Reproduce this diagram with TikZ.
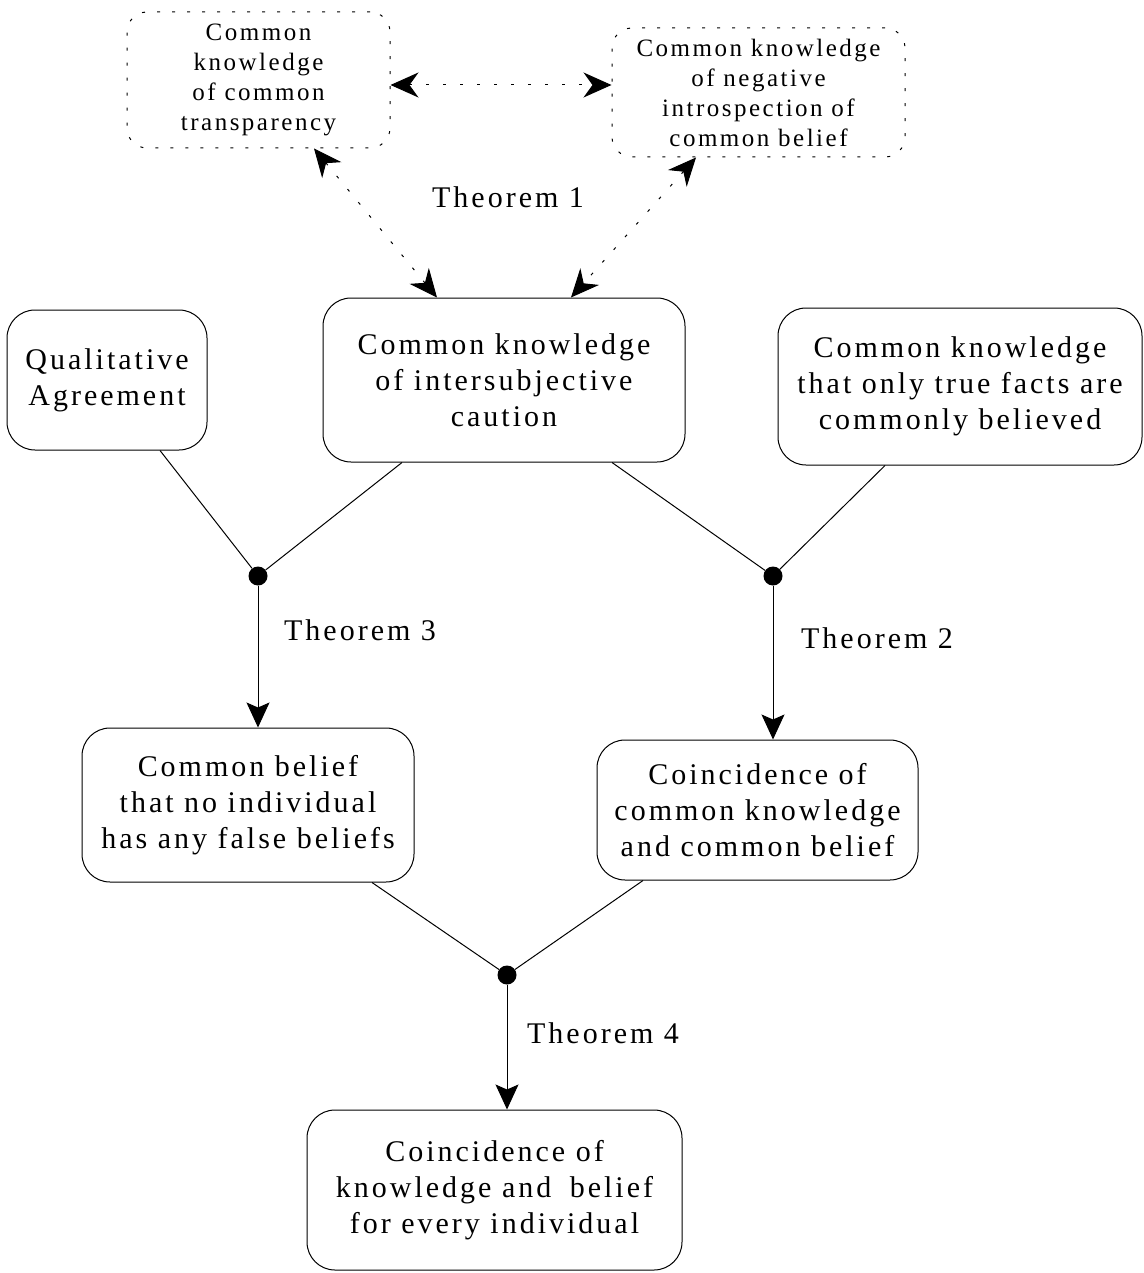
\documentclass[tikz,border=0pt]{standalone}
\usepackage{fontspec}
\setmainfont[LetterSpace=10]{Liberation Serif}
\usetikzlibrary{arrows.meta,calc}
\begin{document}
\begin{tikzpicture}[x=1pt,y=-1pt,
  box/.style={draw, line width=1pt, rounded corners=28pt, align=center,
    font=\fontsize{30}{36}\selectfont, inner sep=0pt},
  topbox/.style={draw, line width=1pt, dash pattern=on 3pt off 12pt, rounded corners=20pt,
    align=center, font=\fontsize{25}{30}\selectfont, inner sep=0pt},
  conn/.style={line width=1pt},
  arr/.style={conn, -{Stealth[length=25pt,width=23pt,inset=5pt]}},
  darr/.style={line width=1pt, dash pattern=on 3pt off 14pt,
    {Stealth[length=28pt,width=25pt,inset=9pt]}-{Stealth[length=28pt,width=25pt,inset=9pt]}},
  jdot/.style={circle, fill, inner sep=0pt, minimum size=19pt},
  lbl/.style={font=\fontsize{30}{36}\selectfont}]
\useasboundingbox (0,0) rectangle (1143,1273);

% top dotted boxes
\node[topbox, minimum width=263pt, minimum height=136pt] (tl) at (258.5,80)
  {Common\\knowledge\\of common\\transparency};
\node[topbox, minimum width=293pt, minimum height=129pt] (tr) at (758.5,92.5)
  {Common knowledge\\of negative\\introspection of\\common belief};

% main boxes
\node[box, minimum width=200pt, minimum height=140pt] (qa) at (107,380)
  {Qualitative\\Agreement};
\node[box, minimum width=362pt, minimum height=164pt] (mid) at (504,380)
  {Common knowledge\\of intersubjective\\caution};
\node[box, minimum width=364pt, minimum height=157pt] (rt) at (960,386.5)
  {Common knowledge\\that only true facts are\\commonly believed};
\node[box, minimum width=332pt, minimum height=154pt] (cb) at (248,805)
  {Common belief\\that no individual\\has any false beliefs};
\node[box, minimum width=321pt, minimum height=140pt] (cc) at (757.5,810)
  {Coincidence of\\common knowledge\\and common belief};
\node[box, minimum width=375pt, minimum height=160pt] (bot) at (494.5,1190)
  {Coincidence of\\knowledge and\hspace{8pt} belief\\for every individual};

% junction dots
\node[jdot] (d1) at (258,576) {};
\node[jdot] (d2) at (773,576) {};
\node[jdot] (d3) at (507,975) {};

% labels
\node[lbl] (t1) at (508,197) {Theorem 1};
\node[lbl] (t3) at (360,630) {Theorem 3};
\node[lbl] (t2) at (877,638) {Theorem 2};
\node[lbl] (t4) at (603,1033) {Theorem 4};

% dotted arrows
\draw[darr] (tl.east |- 0,85) -- (tr.west |- 0,85);
\draw[darr] (tl.south -| 314,0) -- (mid.north -| 437,0);
\draw[darr] (tr.south -| 696,0) -- (mid.north -| 571,0);

% solid connectors
\draw[conn] (qa.south -| 160,0) -- (d1);
\draw[conn] (mid.south -| 402,0) -- (d1);
\draw[conn] (mid.south -| 612,0) -- (d2);
\draw[conn] (rt.south -| 885,0) -- (d2);
\draw[arr] (d1) -- (cb.north -| d1);
\draw[arr] (d2) -- (cc.north -| d2);
\draw[conn] (cb.south -| 372,0) -- (d3);
\draw[conn] (cc.south -| 643,0) -- (d3);
\draw[arr] (d3) -- (bot.north -| d3);
\end{tikzpicture}
\end{document}
